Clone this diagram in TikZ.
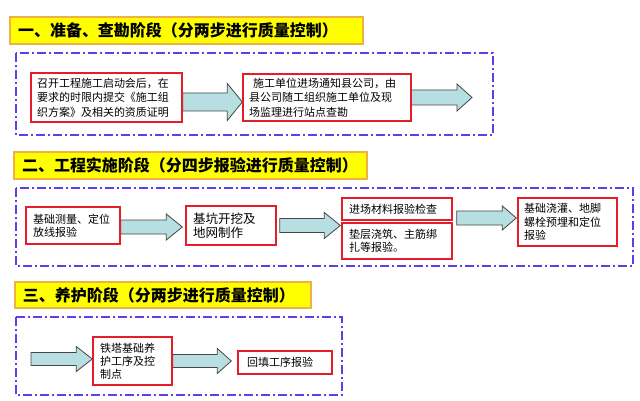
\documentclass[tikz,border=0pt]{standalone}
\usepackage{fontspec}
\newfontfamily\cjk{Noto Sans CJK SC}
\usetikzlibrary{calc, backgrounds}

\definecolor{titlefill}{RGB}{255,255,0}
\definecolor{titleline}{RGB}{240,176,70}
\definecolor{frameline}{RGB}{100,60,230}
\definecolor{boxline}{RGB}{228,30,40}
\definecolor{arrowfill}{RGB}{183,222,224}
\definecolor{arrowline}{RGB}{70,70,70}

\begin{document}
\begin{tikzpicture}[x=1pt,y=-1pt]

\tikzset{title/.style = {draw=titleline, fill=titlefill, line width=1.2pt, inner xsep=8pt, inner ysep=0pt, align=left, font=\cjk\bfseries\fontsize{16}{18}\selectfont}}
\tikzset{frame/.style = {draw=frameline, line width=1.2pt, dash pattern=on 9pt off 3pt on 2pt off 3pt}}
\tikzset{stepbox/.style = {draw=boxline, fill=white, line width=1.4pt, inner xsep=6pt, inner ysep=0pt, align=left, font=\cjk\fontsize{11}{14.5}\selectfont}}
\tikzset{stepbox2/.style = {stepbox, inner xsep=7pt, font=\cjk\fontsize{11}{13.3}\selectfont}}
\tikzset{shaft/.store in=\sh, headw/.store in=\hh, headl/.store in=\hl, shaft=7pt, headw=13pt, headl=15pt}
\tikzset{bigarrow/.style = {draw=arrowline, fill=arrowfill, line width=0.8pt, line join=miter,
  to path={let \p1=(\tikztostart), \p2=(\tikztotarget) in
    (\x1,\y1+\sh) -- (\x2-\hl,\y1+\sh) -- (\x2-\hl,\y1+\hh) -- (\x2,\y1)
    -- (\x2-\hl,\y1-\hh) -- (\x2-\hl,\y1-\sh) -- (\x1,\y1-\sh) -- cycle}}}

\useasboundingbox (0,0) rectangle (640,401);

%titles
\node[title, text width=337pt, minimum height=27pt] (title1) at (186.5,30.5) {一、准备、查勘阶段（分两步进行质量控制）};
\node[title, text width=337pt, minimum height=27pt] (title2) at (190.5,165.5) {二、工程实施阶段（分四步报验进行质量控制）};
\node[title, text width=280pt, minimum height=26pt] (title3) at (163,295) {三、养护阶段（分两步进行质量控制）};

%frames
\draw[frame] (16,53) rectangle (493,135);
\draw[frame] (16,188) rectangle (633,266);
\draw[frame] (16,317) rectangle (342,395);

%steps
\node[stepbox, text width=139pt, minimum height=49pt] (meet) at (106.5,97.5) {召开工程施工启动会后，在\\要求的时限内提交《施工组\\织方案》及相关的资质证明};
\node[stepbox, text width=156pt, minimum height=47pt] (check) at (327,97.5) {\hspace{4pt}施工单位进场通知县公司，由\\县公司随工组织施工单位及现\\场监理进行站点查勘};

\node[stepbox2, text width=80pt, minimum height=37pt] (layout) at (73,225.5) {基础测量、定位\\放线报验};
\node[stepbox2, text width=76pt, minimum height=39pt, font=\cjk\fontsize{12.5}{13.5}\selectfont] (pit) at (231,225.5) {基坑开挖及\\地网制作};
\node[stepbox2, text width=96pt, minimum height=22pt] (material) at (397,209) {进场材料报验检查};
\node[stepbox2, text width=96pt, minimum height=36pt] (cushion) at (397,241) {垫层浇筑、主筋绑\\扎等报验。};
\node[stepbox2, text width=87pt, minimum height=48pt, inner xsep=6pt] (pour) at (567.5,222) {基础浇灌、地脚\\螺栓预埋和定位\\报验};

\node[stepbox2, text width=65pt, minimum height=48pt, font=\cjk\fontsize{11}{13}\selectfont] (cure) at (132.5,361) {铁塔基础养\\护工序及控\\制点};
\node[stepbox2, text width=76pt, minimum height=23pt, inner xsep=9pt] (backfill) at (285,362.5) {回填工序报验};

\coordinate (end1) at (472,97);
\coordinate (ewest) at ($(material.south west)!0.5!(cushion.north west)+(-1,0)$);
\coordinate (eeast) at ($(material.south east)!0.5!(cushion.north east)+(4,-3.5)$);
\coordinate (start3) at (31,359);

%arrows
\begin{scope}[on background layer]
\fill[white] (0,0) rectangle (640,401);
\draw[bigarrow, shaft=9pt, headw=18.5pt] ([yshift=-4.5pt]meet.east) to (check.west);
\draw[bigarrow, shaft=7.5pt, headw=13.5pt] ([xshift=-2pt]check.east) to (end1);
\draw[bigarrow, headl=16pt] ([yshift=-1.5pt]layout.east) to ([xshift=-3pt]pit.west);
\draw[bigarrow, headl=16pt] ([xshift=3pt]pit.east) to (ewest);
\draw[bigarrow, headw=12pt, headl=14pt] (eeast) to ([xshift=-1pt]pour.west);
\draw[bigarrow, shaft=6.5pt, headw=12.5pt, headl=16pt] (start3) to (cure.west);
\draw[bigarrow, shaft=6.5pt, headw=12.5pt, headl=14pt] (cure.east) to ([xshift=-6pt]backfill.west);
\end{scope}

\end{tikzpicture}
\end{document}
